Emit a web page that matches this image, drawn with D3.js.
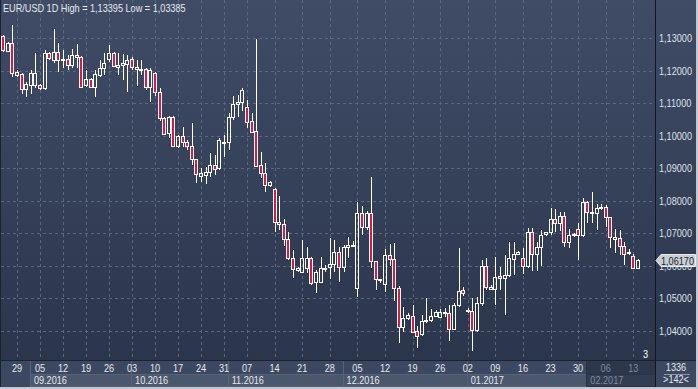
<!DOCTYPE html>
<html><head><meta charset="utf-8">
<script src="https://cdn.jsdelivr.net/npm/d3@7"></script>
<style>
body{margin:0;background:#2f3a4f;overflow:hidden}
svg{display:block}
text{font-family:'Liberation Sans',Arial,sans-serif;font-size:11px}
</style>
</head><body>
<svg id="c" width="698" height="389"></svg>
<script>
// ---------- DATA ----------
const dates = [
"2016-08-24","2016-08-25","2016-08-26",
"2016-08-29","2016-08-30","2016-08-31","2016-09-01","2016-09-02",
"2016-09-05","2016-09-06","2016-09-07","2016-09-08","2016-09-09",
"2016-09-12","2016-09-13","2016-09-14","2016-09-15","2016-09-16",
"2016-09-19","2016-09-20","2016-09-21","2016-09-22","2016-09-23",
"2016-09-26","2016-09-27","2016-09-28","2016-09-29","2016-09-30",
"2016-10-03","2016-10-04","2016-10-05","2016-10-06","2016-10-07",
"2016-10-10","2016-10-11","2016-10-12","2016-10-13","2016-10-14",
"2016-10-17","2016-10-18","2016-10-19","2016-10-20","2016-10-21",
"2016-10-24","2016-10-25","2016-10-26","2016-10-27","2016-10-28",
"2016-10-31","2016-11-01","2016-11-02","2016-11-03","2016-11-04",
"2016-11-07","2016-11-08","2016-11-09","2016-11-10","2016-11-11","2016-11-13",
"2016-11-14","2016-11-15","2016-11-16","2016-11-17","2016-11-18","2016-11-20",
"2016-11-21","2016-11-22","2016-11-23","2016-11-24","2016-11-25","2016-11-27",
"2016-11-28","2016-11-29","2016-11-30","2016-12-01","2016-12-02","2016-12-04",
"2016-12-05","2016-12-06","2016-12-07","2016-12-08","2016-12-09","2016-12-11",
"2016-12-12","2016-12-13","2016-12-14","2016-12-15","2016-12-16","2016-12-18",
"2016-12-19","2016-12-20","2016-12-21","2016-12-22","2016-12-23","2016-12-25",
"2016-12-26","2016-12-27","2016-12-28","2016-12-29","2016-12-30","2017-01-01",
"2017-01-02","2017-01-03","2017-01-04","2017-01-05","2017-01-06","2017-01-08",
"2017-01-09","2017-01-10","2017-01-11","2017-01-12","2017-01-13","2017-01-15",
"2017-01-16","2017-01-17","2017-01-18","2017-01-19","2017-01-20","2017-01-22",
"2017-01-23","2017-01-24","2017-01-25","2017-01-26","2017-01-27","2017-01-29",
"2017-01-30","2017-01-31","2017-02-01","2017-02-02","2017-02-03","2017-02-05",
"2017-02-06","2017-02-07","2017-02-08","2017-02-09","2017-02-10","2017-02-12",
"2017-02-13","2017-02-14"];

const open = [
1.1307,1.1261,1.1286,1.1196,1.1190,1.1144,1.1156,1.1156,1.1156,1.1147,
1.1255,1.1233,1.1258,1.1233,1.1236,1.1218,1.1249,1.1243,1.1156,1.1175,
1.1150,1.1187,1.1209,1.1236,1.1255,1.1212,1.1218,1.1221,1.1236,1.1206,
1.1206,1.1206,1.1150,1.1193,1.1135,1.1055,1.1009,1.1058,1.0969,1.0999,
1.0981,1.0969,1.0929,1.0877,1.0880,1.0889,1.0910,1.0901,1.0978,1.0981,
1.1058,1.1098,1.1104,1.1089,1.1046,1.1015,1.0910,1.0886,1.0849,1.0837,
1.0735,1.0729,1.0683,1.0625,1.0588,1.0582,1.0594,1.0625,1.0551,1.0551,
1.0592,1.0597,1.0606,1.0643,1.0597,1.0658,1.0662,1.0532,1.0763,1.0720,
1.0763,1.0615,1.0560,1.0545,1.0634,1.0622,1.0532,1.0413,1.0440,1.0446,
1.0400,1.0391,1.0431,1.0434,1.0446,1.0443,1.0456,1.0456,1.0406,1.0480,
1.0526,1.0462,1.0462,1.0403,1.0486,1.0600,1.0529,1.0529,1.0569,1.0563,
1.0572,1.0622,1.0637,1.0625,1.0600,1.0705,1.0637,1.0658,1.0698,1.0705,
1.0744,1.0732,1.0754,1.0674,1.0695,1.0714,1.0695,1.0797,1.0766,1.0763,
1.0778,1.0781,1.0751,1.0689,1.0686,1.0662,1.0640,1.0631,1.0594];

const high = [
1.1310,1.1289,1.13395,1.1203,1.1193,1.1166,1.1203,1.1255,1.1159,1.1264,
1.1258,1.1329,1.1286,1.1264,1.1249,1.1267,1.1282,1.1246,1.1203,1.1178,
1.1203,1.1233,1.1255,1.1279,1.1258,1.1255,1.1252,1.1249,1.1243,1.1233,
1.1233,1.1209,1.1209,1.1196,1.1147,1.1058,1.1061,1.1061,1.1003,1.1027,
1.0987,1.1040,1.0929,1.0901,1.0904,1.0947,1.0941,1.0993,1.1003,1.1070,
1.1123,1.1126,1.1147,1.1110,1.1070,1.1298,1.0950,1.0917,1.0861,1.0840,
1.0815,1.0744,1.0705,1.0649,1.0597,1.0680,1.0658,1.0628,1.0588,1.0628,
1.0603,1.0686,1.0680,1.0658,1.0665,1.0689,1.0677,1.0797,1.0784,1.0769,
1.0874,1.0615,1.0560,1.0652,1.0668,1.0671,1.0539,1.0474,1.0456,1.0480,
1.0416,1.0449,1.0502,1.0468,1.0465,1.0468,1.0471,1.0480,1.0486,1.0655,
1.0536,1.0471,1.0502,1.0505,1.0618,1.0625,1.0542,1.0628,1.0597,1.0634,
1.0674,1.0674,1.0646,1.0655,1.0717,1.0717,1.0674,1.0711,1.0705,1.0778,
1.0775,1.0766,1.0766,1.0714,1.0701,1.0732,1.0809,1.0800,1.0827,1.0791,
1.0791,1.0787,1.0751,1.0714,1.0711,1.0674,1.0652,1.0637,1.0622];

const low = [
1.1258,1.1258,1.1181,1.1181,1.1129,1.1120,1.1129,1.1147,1.1141,1.1141,
1.1233,1.1224,1.1196,1.1209,1.1203,1.1209,1.1209,1.1147,1.1150,1.1147,
1.1120,1.1181,1.1187,1.1227,1.1212,1.1187,1.1172,1.1135,1.1203,1.1153,
1.1187,1.1141,1.1104,1.1123,1.1046,1.1003,1.0993,1.0966,1.0963,1.0966,
1.0956,1.0910,1.0855,1.0858,1.0852,1.0874,1.0880,1.0895,1.0935,1.0956,
1.1049,1.1058,1.1076,1.1024,1.1012,1.0904,1.0870,1.0827,1.0843,1.0705,
1.0711,1.0662,1.0618,1.0563,1.0582,1.0579,1.0579,1.0542,1.0517,1.0551,
1.0582,1.0560,1.0582,1.0551,1.0582,1.0625,1.0658,1.0505,1.0695,1.0711,
1.0594,1.0526,1.0548,1.0520,1.0600,1.0492,1.0363,1.0397,1.0434,1.0394,
1.0348,1.0385,1.0425,1.0428,1.0443,1.0440,1.0443,1.0370,1.0403,1.0474,
1.0508,1.0456,1.03385,1.0397,1.0477,1.0526,1.0526,1.0480,1.0526,1.0449,
1.0566,1.0572,1.0634,1.0575,1.0594,1.0585,1.0585,1.0600,1.0692,1.0695,
1.0705,1.0708,1.0658,1.0655,1.0689,1.0618,1.0689,1.0732,1.0732,1.0711,
1.0772,1.0720,1.0655,1.0640,1.0634,1.0603,1.0634,1.0591,1.0591];

const close = [
1.1264,1.1286,1.1193,1.1187,1.1144,1.1159,1.1193,1.1193,1.1147,1.1255,
1.1239,1.1258,1.1233,1.1236,1.1218,1.1249,1.1243,1.1150,1.1175,1.1150,
1.1190,1.1209,1.1224,1.1255,1.1215,1.1218,1.1224,1.1233,1.1212,1.1212,
1.1203,1.1150,1.1203,1.1135,1.1055,1.1006,1.1058,1.0969,1.0999,1.0981,
1.0969,1.0929,1.0883,1.0886,1.0889,1.0910,1.0898,1.0987,1.0981,1.1058,
1.1098,1.1104,1.1141,1.1043,1.1012,1.0907,1.0886,1.0849,1.0858,1.0735,
1.0729,1.0683,1.0625,1.0591,1.0594,1.0625,1.0625,1.0548,1.0582,1.0594,
1.0594,1.0606,1.0643,1.0597,1.0658,1.0665,1.0665,1.0763,1.0720,1.0763,
1.0615,1.0560,1.0558,1.0634,1.0622,1.0532,1.0413,1.0440,1.0449,1.0397,
1.0385,1.0431,1.0434,1.0446,1.0459,1.0459,1.0459,1.0406,1.0480,1.0523,
1.0517,1.0465,1.0403,1.0486,1.0600,1.0536,1.0536,1.0566,1.0563,1.0572,
1.0625,1.0637,1.0643,1.0600,1.0705,1.0637,1.0658,1.0695,1.0703,1.0744,
1.0732,1.0754,1.0674,1.0695,1.0698,1.0695,1.0797,1.0766,1.0763,1.0778,
1.0781,1.0751,1.0689,1.0683,1.0662,1.0637,1.0643,1.0594,1.0617];

const priceTicks = [1.04,1.05,1.06,1.07,1.08,1.09,1.10,1.11,1.12,1.13];
const weekTicks = ["2016-08-29","2016-09-05","2016-09-12","2016-09-19","2016-09-26",
"2016-10-03","2016-10-10","2016-10-17","2016-10-24","2016-10-31","2016-11-07",
"2016-11-14","2016-11-21","2016-11-28","2016-12-05","2016-12-12","2016-12-19",
"2016-12-26","2017-01-02","2017-01-09","2017-01-16","2017-01-23","2017-01-30",
"2017-02-06","2017-02-13"];
const weekLabels = ["29","05","12","19","26","03","10","17","24","31","07","14","21","28",
"05","12","19","26","02","09","16","23","30","06","13"];
const monthStarts = ["2016-09-01","2016-10-03","2016-11-01","2016-12-01","2017-01-02","2017-02-01"];
const monthLabels = ["09.2016","10.2016","11.2016","12.2016","01.2017","02.2017"];
const titleText = "EUR/USD 1D High = 1,13395 Low = 1,03385";
const lastPrice = 1.0617;
const slotCount = 142;
const cornerTop = "1336", cornerBottom = ">142<", markerCount = "3";

// ---------- DRAW ----------
const svg = d3.select("#c");
const W = 698, H = 389, plotR = 655, plotB = 361;
const x = d3.scaleBand().domain(d3.range(slotCount)).range([1, 654]);
const cx = i => x(i) + x.bandwidth() / 2;
const y = d3.scaleLinear().domain([1.04, 1.13]).range([330.8, 38.3]);
const idx = d => dates.indexOf(d);
const fmt = v => d3.format(".5f")(v).replace(".", ",");

const defs = svg.append("defs");
const g1 = defs.append("linearGradient").attr("id", "bg").attr("x1", 0).attr("y1", 0).attr("x2", 0).attr("y2", 1);
g1.append("stop").attr("offset", 0).attr("stop-color", "#404c66");
g1.append("stop").attr("offset", 1).attr("stop-color", "#2b364d");

// backgrounds
svg.append("rect").attr("x", 0).attr("y", 0).attr("width", W).attr("height", H).attr("fill", "#3c4861");
svg.append("rect").attr("x", 0).attr("y", 0).attr("width", W).attr("height", plotB).attr("fill", "url(#bg)");

// grid
const grid = svg.append("g").attr("stroke", "#5a6781").attr("stroke-dasharray", "3,3").attr("shape-rendering", "crispEdges");
grid.selectAll(".h").data(priceTicks).join("line")
  .attr("x1", 1).attr("x2", plotR).attr("y1", d => Math.round(y(d)) + 0.5).attr("y2", d => Math.round(y(d)) + 0.5);
grid.selectAll(".v").data(weekTicks).join("line")
  .attr("x1", d => Math.round(cx(idx(d))) + 0.5).attr("x2", d => Math.round(cx(idx(d))) + 0.5)
  .attr("y1", 0).attr("y2", plotB);

// candles
const data = dates.map((d, i) => ({ i, o: open[i], h: high[i], l: low[i], c: close[i] }));
const cg = svg.append("g").attr("shape-rendering", "crispEdges");
data.forEach(d => {
  const xc = Math.round(cx(d.i));
  const top = Math.round(y(Math.max(d.o, d.c))) + 0.5;
  let bot = Math.round(y(Math.min(d.o, d.c))) + 0.5;
  if (bot - top < 1) bot = top + 1;
  const up = d.c >= d.o;
  cg.append("line").attr("x1", xc + 0.5).attr("x2", xc + 0.5).attr("y1", y(d.h)).attr("y2", top).attr("stroke", "#fff");
  cg.append("line").attr("x1", xc + 0.5).attr("x2", xc + 0.5).attr("y1", bot).attr("y2", y(d.l)).attr("stroke", "#fff");
  cg.append("rect").attr("x", xc - 1.5).attr("y", top).attr("width", 3).attr("height", bot - top)
    .attr("fill", up ? "none" : "#e3173e").attr("stroke", "#fff").attr("stroke-width", 1);
});

// title
svg.append("text").attr("x", 3).attr("y", 12).attr("fill", "#e6eaf0").text(titleText);

// right axis
svg.append("g").selectAll("text").data(priceTicks).join("text")
  .attr("x", 659).attr("y", d => y(d) + 3.8).attr("fill", "#dfe3ea").text(fmt);

// bottom axis rows
const last = monthStarts.length - 1;
const mx = d => cx(idx(d)) - 1;
svg.append("rect").attr("x", 0).attr("y", plotB).attr("width", plotR).attr("height", 26).attr("fill", "#3c4861");
svg.append("rect").attr("x", mx(monthStarts[last])).attr("y", plotB).attr("width", plotR - mx(monthStarts[last])).attr("height", 26).attr("fill", "#2c374c");
monthStarts.forEach((m, k) => {
  const x0 = mx(m);
  const x1 = k < last ? mx(monthStarts[k + 1]) : plotR;
  svg.append("rect").attr("x", Math.round(x0) + 0.5).attr("y", 374.5).attr("width", Math.round(x1) - Math.round(x0)).attr("height", 12)
    .attr("fill", k === last ? "#323d52" : "#4b576d").attr("stroke", k === last ? "#2a3346" : "#56627a").attr("shape-rendering", "crispEdges");
  svg.append("line").attr("x1", Math.round(x0) + 0.5).attr("x2", Math.round(x0) + 0.5).attr("y1", plotB).attr("y2", 386)
    .attr("stroke", k === last ? "#2a3346" : "#56627a").attr("shape-rendering", "crispEdges");
  svg.append("text").attr("x", x0 + 4).attr("y", 384).attr("fill", k === last ? "#7f899b" : "#e6e9ee").text(monthLabels[k]);
});
const lastStartX = mx(monthStarts[last]);
svg.append("g").selectAll("text").data(weekTicks).join("text")
  .attr("x", d => cx(idx(d))).attr("y", 372).attr("text-anchor", "middle")
  .attr("fill", d => cx(idx(d)) > lastStartX ? "#7f899b" : "#e6e9ee")
  .text((d, k) => weekLabels[k]);

// frame lines
svg.append("line").attr("x1", 0).attr("x2", W).attr("y1", plotB - 0.5).attr("y2", plotB - 0.5).attr("stroke", "#1b2230");
svg.append("line").attr("x1", plotR + 0.5).attr("x2", plotR + 0.5).attr("y1", 0).attr("y2", H).attr("stroke", "#111722");
svg.append("line").attr("x1", 0.5).attr("x2", 0.5).attr("y1", 0).attr("y2", H).attr("stroke", "#1b2230");

// corner box
svg.append("text").attr("x", 676).attr("y", 371).attr("text-anchor", "middle").attr("fill", "#e6e9ee").text(cornerTop);
svg.append("line").attr("x1", 664).attr("x2", 690).attr("y1", 374.5).attr("y2", 374.5).attr("stroke", "#8a94a6");
svg.append("text").attr("x", 676).attr("y", 383).attr("text-anchor", "middle").attr("fill", "#e6e9ee").text(cornerBottom);

// marker count
svg.append("text").attr("x", 643).attr("y", 358).attr("fill", "#ffffff").text(markerCount);

// last price marker
const py = Math.round(y(lastPrice)) + 0.5;
svg.append("path").attr("d", `M656,${py} L661,${py - 6} L695.5,${py - 6} L695.5,${py + 6} L661,${py + 6} Z`)
  .attr("fill", "#c9ced6").attr("stroke", "#e9ecf0");
svg.append("text").attr("x", 661).attr("y", py + 4).attr("fill", "#1b1f27").text(fmt(lastPrice));

// outer light border
svg.append("rect").attr("x", 0).attr("y", 387).attr("width", W).attr("height", 2).attr("fill", "#c3c8d0");
svg.append("rect").attr("x", 696).attr("y", 0).attr("width", 2).attr("height", H).attr("fill", "#c3c8d0");

// narrow the glyphs to match the condensed UI font of the original
svg.selectAll("text").each(function () {
  const w = this.getComputedTextLength();
  d3.select(this).attr("textLength", (w * 0.83).toFixed(1)).attr("lengthAdjust", "spacingAndGlyphs");
});
</script>
</body></html>
